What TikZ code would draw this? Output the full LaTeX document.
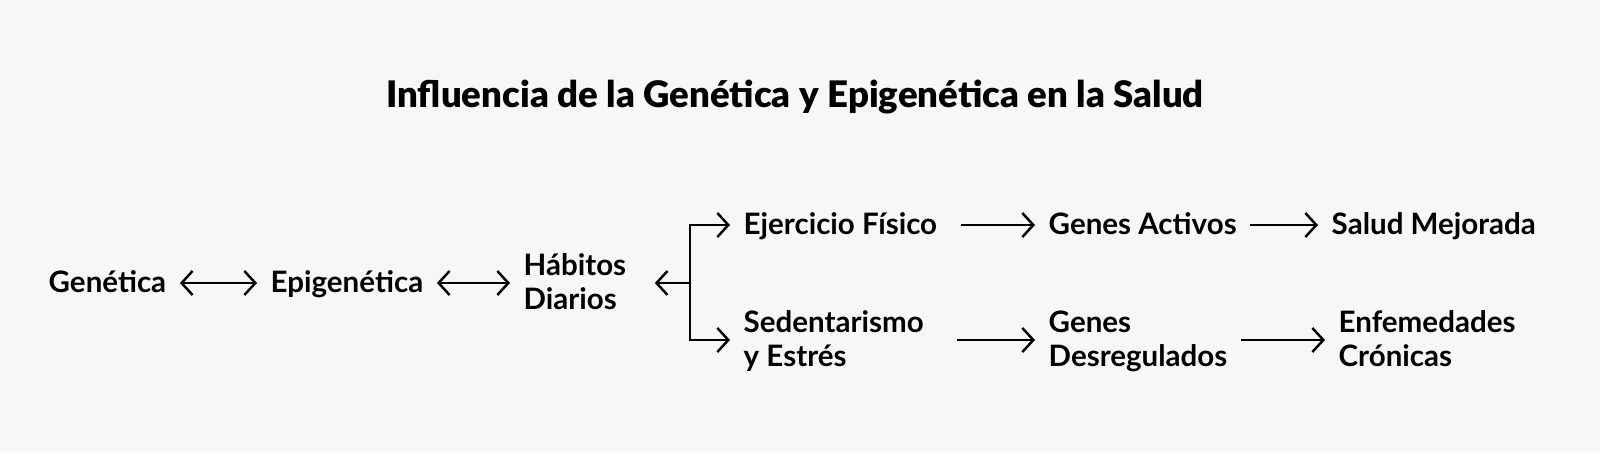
\documentclass[tikz,border=0pt]{standalone}
\usepackage{fontspec}
\setmainfont{Lato}
\newfontfamily\titlefont{Lato Black}
\usetikzlibrary{arrows.meta}

\begin{document}
\begin{tikzpicture}[
    lbl/.style={anchor=west, inner xsep=0.13cm, inner ysep=0.05cm, text height=0.72em, text depth=0.18em, align=left, font=\fontsize{8.4}{9.6}\selectfont\bfseries},
    lbltwo/.style={lbl, text height=9.6pt+0.72em},
    conn/.style={line width=0.7pt, -{Straight Barb[length=1.1mm, width=2.4mm, line width=0.7pt]}},
    both/.style={line width=0.7pt, {Straight Barb[length=1.1mm, width=2.4mm, line width=0.7pt]}-{Straight Barb[length=1.1mm, width=2.4mm, line width=0.7pt]}}
    ]
    \fill[white!97!black] (0,0) rectangle (16,4.53);
    \useasboundingbox (0,0) rectangle (16,4.53);

    \node[font=\fontsize{10.4}{12}\titlefont] (title) at (7.95,3.56) {Influencia de la Genética y Epigenética en la Salud};

    \node[lbl] (gen) at (0.35,1.70) {Genética};
    \node[lbl] (epi) at (2.57,1.70) {Epigenética};
    \node[lbltwo] (hab) at (5.10,1.70) {Hábitos\\Diarios};
    \node[lbl] (eje) at (7.30,2.28) {Ejercicio Físico};
    \node[lbl] (act) at (10.35,2.28) {Genes Activos};
    \node[lbl] (sal) at (13.18,2.28) {Salud Mejorada};
    \node[lbltwo] (sed) at (7.30,1.13) {Sedentarismo\\y Estrés};
    \node[lbltwo] (des) at (10.35,1.13) {Genes\\Desregulados};
    \node[lbltwo] (enf) at (13.25,1.13) {Enfemedades\\Crónicas};
    \coordinate (fork) at (6.90,1.70);

    \draw[both] (gen) -- (epi);
    \draw[both] (epi) -- (hab);
    \draw[conn, shorten >=0.15cm] (fork) -- (hab);
    \draw[conn] (fork) |- (eje.west);
    \draw[conn] (fork) |- (sed.west);
    \draw[conn, shorten <=0.1cm] (eje) -- (act);
    \draw[conn] (act) -- (sal);
    \draw[conn, shorten <=0.2cm] (sed) -- (des);
    \draw[conn] (des) -- (enf);
\end{tikzpicture}
\end{document}
